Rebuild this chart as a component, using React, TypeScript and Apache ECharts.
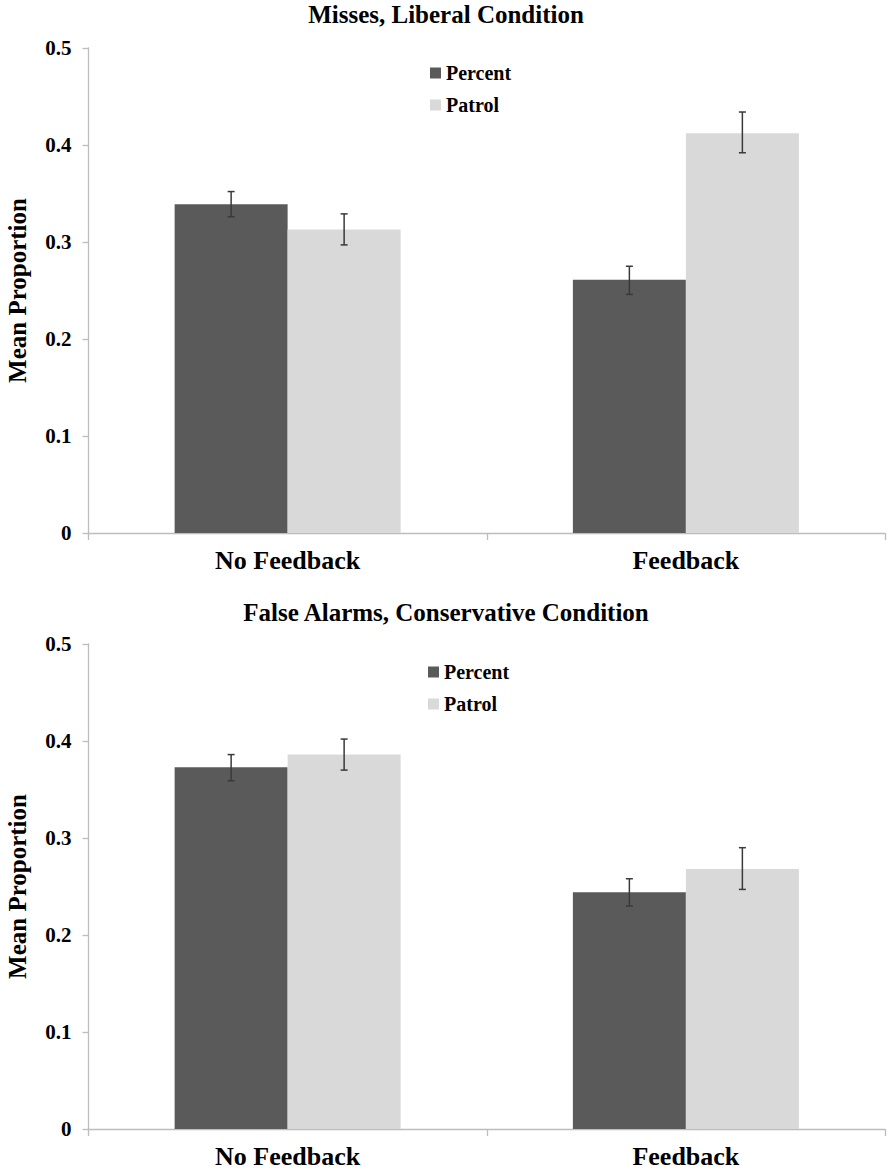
import React, { useEffect, useRef } from "react";
import * as echarts from "echarts";

const categories = ["No Feedback", "Feedback"];
const seriesNames = ["Percent", "Patrol"];
const panelTitles = ["Misses, Liberal Condition", "False Alarms, Conservative Condition"];
const yAxisName = "Mean Proportion";

// Panel 1: Misses, Liberal Condition
const missesPercent = [0.339, 0.261];
const missesPercentLow = [0.326, 0.246];
const missesPercentHigh = [0.352, 0.275];
const missesPatrol = [0.313, 0.412];
const missesPatrolLow = [0.297, 0.392];
const missesPatrolHigh = [0.329, 0.434];

// Panel 2: False Alarms, Conservative Condition
const faPercent = [0.373, 0.244];
const faPercentLow = [0.359, 0.23];
const faPercentHigh = [0.386, 0.258];
const faPatrol = [0.386, 0.268];
const faPatrolLow = [0.37, 0.247];
const faPatrolHigh = [0.402, 0.29];

const COLORS = ["#5a5a5a", "#d9d9d9"];
const FONT = '"Liberation Serif", "Times New Roman", serif';
const BAR_W = 113;
const AXIS_COLOR = "#bdbdbd";

export default function App() {
  const ref = useRef<HTMLDivElement>(null);

  useEffect(() => {
    if (!ref.current) return;
    const chart = echarts.init(ref.current, undefined, { renderer: "svg" });

    const panels = [
      {
        values: [missesPercent, missesPatrol],
        lows: [missesPercentLow, missesPatrolLow],
        highs: [missesPercentHigh, missesPatrolHigh],
      },
      {
        values: [faPercent, faPatrol],
        lows: [faPercentLow, faPatrolLow],
        highs: [faPercentHigh, faPatrolHigh],
      },
    ];

    const grids = [
      { left: 88.5, right: 7, top: 48, height: 485, containLabel: false, outerBoundsMode: "none" },
      { left: 88.5, right: 7, top: 644, height: 485, containLabel: false, outerBoundsMode: "none" },
    ];

    const xAxes = grids.map((_, gi) => ({
      type: "category",
      gridIndex: gi,
      data: categories,
      axisLine: { show: true, lineStyle: { color: AXIS_COLOR, width: 1.3 } },
      axisTick: { show: true, length: 7, lineStyle: { color: AXIS_COLOR, width: 1.3 } },
      axisLabel: {
        color: "#000",
        fontFamily: FONT,
        fontWeight: "bold",
        fontSize: 26,
        margin: 14,
      },
    }));

    const yAxes = grids.map((_, gi) => ({
      type: "value",
      gridIndex: gi,
      min: 0,
      max: 0.5,
      interval: 0.1,
      name: yAxisName,
      nameLocation: "middle",
      nameGap: 59,
      nameTextStyle: {
        color: "#000",
        fontFamily: FONT,
        fontWeight: "bold",
        fontSize: 25,
      },
      axisLine: { show: true, lineStyle: { color: AXIS_COLOR, width: 1.3 } },
      axisTick: { show: true, length: 6, lineStyle: { color: AXIS_COLOR, width: 1.3 } },
      splitLine: { show: false },
      axisLabel: {
        color: "#000",
        fontFamily: FONT,
        fontWeight: "bold",
        fontSize: 21,
        margin: 17,
      },
    }));

    const series: any[] = [];
    panels.forEach((p, gi) => {
      seriesNames.forEach((name, si) => {
        series.push({
          type: "bar",
          name,
          xAxisIndex: gi,
          yAxisIndex: gi,
          data: p.values[si],
          barWidth: BAR_W,
          barGap: "0%",
          itemStyle: { color: COLORS[si] },
        });
      });
      seriesNames.forEach((name, si) => {
        const offset = si === 0 ? -BAR_W / 2 : BAR_W / 2;
        series.push({
          type: "custom",
          name: name + " error",
          xAxisIndex: gi,
          yAxisIndex: gi,
          z: 5,
          data: categories.map((_, ci) => [ci, p.lows[si][ci], p.highs[si][ci]]),
          encode: { x: 0, y: [1, 2] },
          renderItem: (params: any, api: any) => {
            const ci = api.value(0);
            const lo = api.coord([ci, api.value(1)]);
            const hi = api.coord([ci, api.value(2)]);
            const x = lo[0] + offset;
            const cap = 3.5;
            const style = { stroke: "#3a3a3a", lineWidth: 1.5 };
            return {
              type: "group",
              children: [
                { type: "line", shape: { x1: x, y1: lo[1], x2: x, y2: hi[1] }, style },
                { type: "line", shape: { x1: x - cap, y1: lo[1], x2: x + cap, y2: lo[1] }, style },
                { type: "line", shape: { x1: x - cap, y1: hi[1], x2: x + cap, y2: hi[1] }, style },
              ],
            };
          },
        });
      });
    });

    const legendBase = {
      orient: "vertical",
      icon: "rect",
      itemWidth: 11,
      itemHeight: 11,
      itemGap: 12,
      data: seriesNames,
      textStyle: {
        color: "#000",
        fontFamily: FONT,
        fontWeight: "bold",
        fontSize: 20,
        lineHeight: 20,
        padding: [0, 0, 0, 0],
      },
    };

    chart.setOption({
      animation: false,
      backgroundColor: "#fff",
      title: [
        {
          text: panelTitles[0],
          left: "center",
          top: 2,
          padding: 0,
          textStyle: { color: "#000", fontFamily: FONT, fontWeight: "bold", fontSize: 25 },
        },
        {
          text: panelTitles[1],
          left: "center",
          top: 600,
          padding: 0,
          textStyle: { color: "#000", fontFamily: FONT, fontWeight: "bold", fontSize: 25 },
        },
      ],
      legend: [
        { ...legendBase, left: 430, top: 63, padding: 0 },
        { ...legendBase, left: 428, top: 662, padding: 0 },
      ],
      grid: grids,
      xAxis: xAxes,
      yAxis: yAxes,
      series,
    });

    return () => chart.dispose();
  }, []);

  return (
    <div
      ref={ref}
      style={{ position: "absolute", left: 0, top: 0, width: 892, height: 1173 }}
    />
  );
}
